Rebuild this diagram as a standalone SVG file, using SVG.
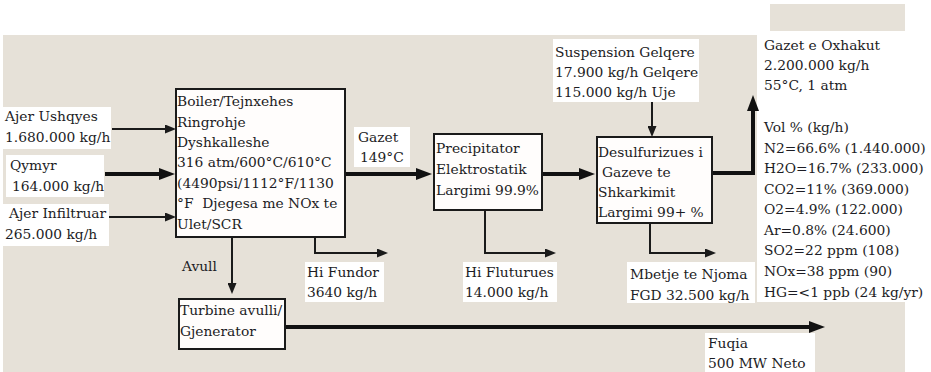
<svg xmlns="http://www.w3.org/2000/svg" width="931" height="372" viewBox="0 0 931 372">
<style>
text{font-family:"DejaVu Serif","Liberation Serif",serif;font-size:13.8px;fill:#1c1c24}
.box{fill:#fffdfc;stroke:#1a1a1a;stroke-width:2}
.lbl{fill:#ffffff}
.thin{fill:none;stroke:#1a1a1a;stroke-width:2;marker-end:url(#ah)}
.thick{fill:none;stroke:#111;stroke-width:4;marker-end:url(#ahb)}
</style>
<defs>
<marker id="ah" markerWidth="11" markerHeight="9" refX="7" refY="4.5" orient="auto" markerUnits="userSpaceOnUse"><path d="M0,0 L11,4.5 L0,9 z" fill="#1a1a1a"/></marker>
<marker id="ahb" markerWidth="16" markerHeight="12" refX="10" refY="6" orient="auto" markerUnits="userSpaceOnUse"><path d="M0,0 L16,6 L0,12 z" fill="#111"/></marker>
</defs>
<rect x="0" y="0" width="931" height="372" fill="#ffffff"/>
<rect x="3" y="35" width="902" height="337" fill="#e6e1d8"/>
<rect x="770" y="4" width="135" height="27" fill="#e6e1d8"/>
<rect x="757" y="35" width="174" height="267" fill="#ffffff"/>

<g id="connectors">
<path class="thin" d="M112,129 H172"/>
<path class="thick" d="M105,174 H169"/>
<path class="thin" d="M107,217 H172"/>
<path class="thick" d="M345,174 H426"/>
<path class="thick" d="M542,174 H589"/>
<path class="thick" d="M712,173 H753 V101"/>
<path class="thin" d="M315,237 V253 H384"/>
<path class="thin" d="M485,210 V253 H552"/>
<path class="thin" d="M232,237 V290"/>
<path class="thin" d="M652,102 V133"/>
<path class="thin" d="M650,223 V253 H712"/>
<path class="thick" d="M285,327 H819"/>
</g>

<g id="in-ajer-ushqyes">
<rect class="lbl" x="3" y="107" width="108" height="42"/>
<text x="5" y="121">Ajer Ushqyes</text>
<text x="5" y="142">1.680.000 kg/h</text>
</g>
<g id="in-qymyr">
<rect class="lbl" x="6" y="155" width="98" height="42"/>
<text x="10" y="170">Qymyr</text>
<text x="12" y="191">164.000 kg/h</text>
</g>
<g id="in-ajer-infiltruar">
<rect class="lbl" x="3" y="204" width="106" height="42"/>
<text x="9" y="218">Ajer Infiltruar</text>
<text x="5" y="239">265.000 kg/h</text>
</g>

<g id="boiler">
<rect class="box" x="176" y="89" width="169" height="148"/>
<text x="177" y="106">Boiler/Tejnxehes</text>
<text x="177" y="127">Ringrohje</text>
<text x="177" y="147">Dyshkalleshe</text>
<text x="177" y="167">316 atm/600°C/610°C</text>
<text x="177" y="188">(4490psi/1112°F/1130</text>
<text x="177" y="208" xml:space="preserve">°F  Djegesa me NOx te</text>
<text x="177" y="229">Ulet/SCR</text>
</g>

<g id="gazet">
<rect class="lbl" x="354" y="127" width="56" height="40"/>
<text x="358" y="142">Gazet</text>
<text x="360" y="162">149°C</text>
</g>

<g id="precipitator">
<rect class="box" x="434" y="134" width="108" height="76"/>
<text x="436" y="153">Precipitator</text>
<text x="436" y="174">Elektrostatik</text>
<text x="436" y="195">Largimi 99.9%</text>
</g>

<g id="suspension">
<rect class="lbl" x="553" y="39" width="146" height="63"/>
<text x="555" y="57">Suspension Gelqere</text>
<text x="555" y="77">17.900 kg/h Gelqere</text>
<text x="555" y="97">115.000 kg/h Uje</text>
</g>

<g id="desulfurizues">
<rect class="box" x="597" y="137" width="115" height="86"/>
<text x="598" y="157">Desulfurizues i</text>
<text x="602" y="177">Gazeve te</text>
<text x="598" y="197">Shkarkimit</text>
<text x="598" y="217">Largimi 99+ %</text>
</g>

<g id="hi-fundor">
<rect class="lbl" x="305" y="262" width="79" height="40"/>
<text x="307" y="277">Hi Fundor</text>
<text x="307" y="297">3640 kg/h</text>
</g>
<g id="hi-fluturues">
<rect class="lbl" x="463" y="262" width="94" height="40"/>
<text x="465" y="277">Hi Fluturues</text>
<text x="465" y="297">14.000 kg/h</text>
</g>
<g id="mbetje">
<rect class="lbl" x="627" y="262" width="128" height="41"/>
<text x="630" y="279">Mbetje te Njoma</text>
<text x="630" y="300">FGD 32.500 kg/h</text>
</g>

<g id="avull">
<text x="182" y="271">Avull</text>
</g>

<g id="turbine">
<rect class="box" x="179" y="299" width="106" height="50"/>
<text x="180" y="315">Turbine avulli/</text>
<text x="180" y="336">Gjenerator</text>
</g>

<g id="fuqia">
<rect class="lbl" x="705" y="333" width="110" height="39"/>
<text x="708" y="348">Fuqia</text>
<text x="708" y="368">500 MW Neto</text>
</g>

<g id="gazet-oxhakut">
<text x="764" y="50">Gazet e Oxhakut</text>
<text x="764" y="70">2.200.000 kg/h</text>
<text x="764" y="90">55°C, 1 atm</text>
<text x="764" y="132">Vol % (kg/h)</text>
<text x="764" y="153">N2=66.6% (1.440.000)</text>
<text x="764" y="173">H2O=16.7% (233.000)</text>
<text x="764" y="194">CO2=11% (369.000)</text>
<text x="764" y="214">O2=4.9% (122.000)</text>
<text x="764" y="235">Ar=0.8% (24.600)</text>
<text x="764" y="255">SO2=22 ppm (108)</text>
<text x="764" y="276">NOx=38 ppm (90)</text>
<text x="764" y="297">HG=&lt;1 ppb (24 kg/yr)</text>
</g>
</svg>
